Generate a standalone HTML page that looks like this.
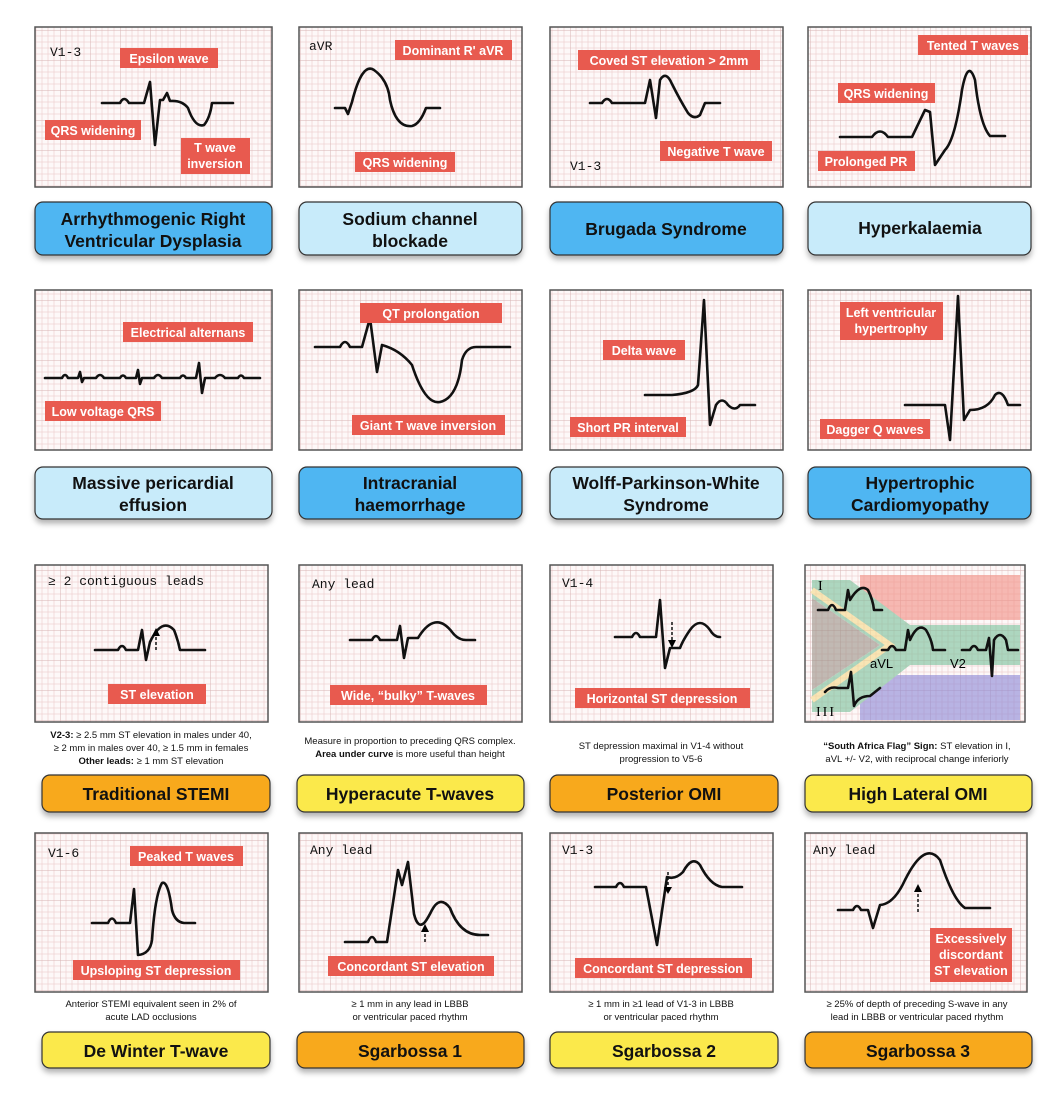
<!DOCTYPE html>
<html><head><meta charset="utf-8"><style>
html,body{margin:0;padding:0;background:#fff;}
svg{display:block;font-family:"Liberation Sans",sans-serif;}
.g{fill:url(#grid);stroke:#555;stroke-width:1.5}
.e{fill:none;stroke:#111;stroke-width:2.6;stroke-linejoin:round;stroke-linecap:round}
.t{fill:#e85a4f}
.tt{fill:#fff;font-size:12.5px;text-anchor:middle;font-weight:bold}
.m{font-family:"Liberation Mono",monospace;font-size:13px;fill:#111}
.lb{stroke:#333;stroke-width:1.2}
.lt{font-size:17.5px;font-weight:bold;text-anchor:middle;fill:#111}
.c{font-size:9.5px;text-anchor:middle;fill:#111}
</style></head><body>
<svg width="1059" height="1093" viewBox="0 0 1059 1093">
<defs>
<pattern id="grid" width="30" height="30" patternUnits="userSpaceOnUse">
<rect width="30" height="30" fill="#fdf8f8"/>
<path d="M6 0V30M12 0V30M18 0V30M24 0V30M0 6H30M0 12H30M0 18H30M0 24H30" stroke="#f0d4d4" stroke-width="0.8"/>
<path d="M0 0V30M0 0H30" stroke="#d8b4b4" stroke-width="1"/>
</pattern>
<filter id="sh" x="-5%" y="-20%" width="110%" height="160%"><feDropShadow dx="0" dy="4" stdDeviation="3" flood-color="#000" flood-opacity="0.3"/></filter>
</defs>

<!-- Row 1 boxes -->
<rect class="g" x="35" y="27" width="237" height="160"/>
<rect class="g" x="299" y="27" width="223" height="160"/>
<rect class="g" x="550" y="27" width="233" height="160"/>
<rect class="g" x="808" y="27" width="223" height="160"/>
<!-- Row 2 -->
<rect class="g" x="35" y="290" width="237" height="160"/>
<rect class="g" x="299" y="290" width="223" height="160"/>
<rect class="g" x="550" y="290" width="233" height="160"/>
<rect class="g" x="808" y="290" width="223" height="160"/>
<!-- Row 3 -->
<rect class="g" x="35" y="565" width="233" height="157"/>
<rect class="g" x="299" y="565" width="223" height="157"/>
<rect class="g" x="550" y="565" width="223" height="157"/>
<rect class="g" x="805" y="565" width="220" height="157"/>
<!-- Row 4 -->
<rect class="g" x="35" y="833" width="233" height="159"/>
<rect class="g" x="299" y="833" width="223" height="159"/>
<rect class="g" x="550" y="833" width="223" height="159"/>
<rect class="g" x="805" y="833" width="222" height="159"/>

<!-- South Africa flag -->
<g opacity="0.6">
<rect x="860" y="575" width="160" height="45" fill="#f28f84"/>
<rect x="860" y="675" width="160" height="45" fill="#8b86d6"/>
<polygon points="812,580 850,580 910,625 1020,625 1020,665 910,665 850,712 812,712 812,690 880,645 812,598" fill="#79c19a"/>
<polygon points="812,598 880,645 812,690" fill="#9a9086"/>
<polyline points="812,590 890,645 812,700" fill="none" stroke="#f5d98a" stroke-width="6"/>
</g>
<text x="818" y="590" style="font-family:'Liberation Serif',serif;font-size:14px">I</text>
<text x="870" y="668" style="font-size:13px">aVL</text>
<text x="950" y="668" style="font-size:13px">V2</text>
<text x="816" y="716" style="font-family:'Liberation Serif',serif;font-size:14px;letter-spacing:2px">III</text>
<path class="e" d="M818 610 H828 Q832 600 836 610 H845 L848 590 L850 600 Q860 583 868 590 Q873 600 874 610 H882"/>
<path class="e" d="M882 650 H888 Q892 642 896 650 H905 L908 630 L910 640 Q918 622 926 630 Q932 640 933 650 H945"/>
<path class="e" d="M962 650 H970 Q974 642 978 650 H986 L989 638 L992 676 L994 640 Q1000 630 1006 640 L1008 650 H1018"/>
<path class="e" d="M825 692 Q830 686 838 688 H848 L851 672 L854 706 Q858 696 870 696 L880 688"/>

<!-- ECG traces -->
<path class="e" d="M102 103 H120 Q124 95 129 103 H144 L150 82 L155 145 L160 100 H163 L167 93 L170 101 Q182 100 188 108 Q195 128 204 125 Q210 118 212 103 H233"/>
<path class="e" d="M335 108 H345 L348 114 L352 102 Q362 62 374 70 Q388 80 390 100 Q396 128 412 126 Q420 124 426 108 H440"/>
<path class="e" d="M590 103 H602 Q607 95 612 103 H645 L650 80 L656 118 L660 80 Q666 70 672 84 Q680 100 688 113 Q694 120 700 115 L705 103 H720"/>
<path class="e" d="M840 137 H872 Q880 126 888 137 H912 L925 110 L930 112 L935 165 L945 150 Q955 140 962 90 Q968 58 975 80 Q980 125 990 136 H1005"/>

<path class="e" d="M45 378 H62 Q65 372 68 378 H78 L80 372 L82 382 L84 378 H96 Q100 372 104 378 H120 Q123 373 126 378 H136 L138 370 L140 384 L142 378 H154 Q158 372 162 378 H180 Q183 373 186 378 H196 L199 363 L202 393 L205 378 H215 Q220 372 225 378 H238 Q241 373 244 378 H260"/>
<path class="e" d="M315 347 H340 Q345 337 350 347 H362 L370 318 L377 372 L382 345 Q400 350 412 365 Q425 405 440 402 Q458 398 462 360 Q466 347 476 347 H510"/>
<path class="e" d="M645 395 H672 Q695 393 698 385 L704 300 L710 425 L716 405 Q722 396 728 405 Q735 412 740 405 H755"/>
<path class="e" d="M905 405 H945 L950 440 L958 296 L964 420 L970 410 Q988 410 995 395 Q1002 388 1008 405 H1020"/>

<path class="e" d="M95 650 H118 Q122 642 126 650 H138 L142 630 L146 660 L150 642 Q162 617 174 630 Q178 640 180 650 H205"/>
<path class="e" d="M350 640 H372 Q376 632 380 640 H397 L400 626 L404 658 L408 638 H418 Q435 610 452 632 Q458 640 466 640 H475"/>
<path class="e" d="M615 637 H632 Q636 629 640 637 H656 L660 600 L665 668 L670 648 H680 Q683 640 690 630 Q700 616 710 630 Q714 637 720 637"/>
<path class="e" d="M92 923 H108 Q112 914 116 923 H130 L134 889 L138 955 Q150 954 152 940 Q155 895 162 883 Q168 880 172 910 Q175 922 184 923 H195"/>
<path class="e" d="M345 942 H368 Q372 932 376 942 H387 L398 870 L402 885 L408 862 L414 914 Q418 930 425 922 Q428 918 432 910 Q440 895 450 908 Q460 935 480 935 H488"/>
<path class="e" d="M595 887 H616 Q620 879 624 887 H646 L657 945 L667 877 Q675 880 683 872 Q692 855 700 865 Q710 885 722 887 H742"/>
<path class="e" d="M838 910 H853 Q857 902 861 910 H868 L873 928 L880 905 Q894 904 905 880 Q925 840 940 860 Q953 900 965 908 H990"/>
<!-- dashed arrows -->
<path d="M156 650 V632" stroke="#111" stroke-width="1.5" stroke-dasharray="3,2"/><path d="M152 636 L156 628 L160 636Z"/>
<path d="M672 622 V643" stroke="#111" stroke-width="1.5" stroke-dasharray="3,2"/><path d="M668 640 L672 648 L676 640Z"/>
<path d="M425 942 V928" stroke="#111" stroke-width="1.5" stroke-dasharray="3,2"/><path d="M421 932 L425 924 L429 932Z"/>
<path d="M668 872 V890" stroke="#111" stroke-width="1.5" stroke-dasharray="3,2"/><path d="M664 887 L668 894 L672 887Z"/>
<path d="M918 912 V888" stroke="#111" stroke-width="1.5" stroke-dasharray="3,2"/><path d="M914 892 L918 884 L922 892Z"/>

<!-- mono lead labels -->
<text class="m" x="50" y="56">V1-3</text>
<text class="m" x="309" y="50">aVR</text>
<text class="m" x="570" y="170">V1-3</text>
<text class="m" x="48" y="585">≥ 2 contiguous leads</text>
<text class="m" x="312" y="588">Any lead</text>
<text class="m" x="562" y="587">V1-4</text>
<text class="m" x="48" y="857">V1-6</text>
<text class="m" x="310" y="854">Any lead</text>
<text class="m" x="562" y="854">V1-3</text>
<text class="m" x="813" y="854">Any lead</text>

<!-- red tags -->
<g>
<rect class="t" x="120" y="48" width="98" height="20"/><text class="tt" x="169" y="63">Epsilon wave</text>
<rect class="t" x="45" y="120" width="96" height="20"/><text class="tt" x="93" y="135">QRS widening</text>
<rect class="t" x="181" y="138" width="69" height="36"/><text class="tt" x="215" y="152">T wave</text><text class="tt" x="215" y="168">inversion</text>
<rect class="t" x="395" y="40" width="117" height="20"/><text class="tt" x="453" y="55">Dominant R' aVR</text>
<rect class="t" x="355" y="152" width="100" height="20"/><text class="tt" x="405" y="167">QRS widening</text>
<rect class="t" x="578" y="50" width="182" height="20"/><text class="tt" x="669" y="65">Coved ST elevation &gt; 2mm</text>
<rect class="t" x="660" y="141" width="112" height="20"/><text class="tt" x="716" y="156">Negative T wave</text>
<rect class="t" x="918" y="35" width="110" height="20"/><text class="tt" x="973" y="50">Tented T waves</text>
<rect class="t" x="838" y="83" width="97" height="20"/><text class="tt" x="886" y="98">QRS widening</text>
<rect class="t" x="818" y="151" width="97" height="20"/><text class="tt" x="866" y="166">Prolonged PR</text>

<rect class="t" x="123" y="322" width="130" height="20"/><text class="tt" x="188" y="337">Electrical alternans</text>
<rect class="t" x="45" y="401" width="116" height="20"/><text class="tt" x="103" y="416">Low voltage QRS</text>
<rect class="t" x="360" y="303" width="142" height="20"/><text class="tt" x="431" y="318">QT prolongation</text>
<rect class="t" x="352" y="415" width="153" height="20"/><text class="tt" x="428" y="430">Giant T wave inversion</text>
<rect class="t" x="603" y="340" width="82" height="20"/><text class="tt" x="644" y="355">Delta wave</text>
<rect class="t" x="570" y="417" width="116" height="20"/><text class="tt" x="628" y="432">Short PR interval</text>
<rect class="t" x="840" y="302" width="103" height="38"/><text class="tt" x="891" y="317">Left ventricular</text><text class="tt" x="891" y="333">hypertrophy</text>
<rect class="t" x="820" y="419" width="110" height="20"/><text class="tt" x="875" y="434">Dagger Q waves</text>

<rect class="t" x="108" y="684" width="98" height="20"/><text class="tt" x="157" y="699">ST elevation</text>
<rect class="t" x="330" y="685" width="157" height="20"/><text class="tt" x="408" y="700">Wide, “bulky” T-waves</text>
<rect class="t" x="575" y="688" width="175" height="20"/><text class="tt" x="662" y="703">Horizontal ST depression</text>

<rect class="t" x="130" y="846" width="113" height="20"/><text class="tt" x="186" y="861">Peaked T waves</text>
<rect class="t" x="73" y="960" width="167" height="20"/><text class="tt" x="156" y="975">Upsloping ST depression</text>
<rect class="t" x="328" y="956" width="166" height="20"/><text class="tt" x="411" y="971">Concordant ST elevation</text>
<rect class="t" x="575" y="958" width="177" height="20"/><text class="tt" x="663" y="973">Concordant ST depression</text>
<rect class="t" x="930" y="928" width="82" height="54"/><text class="tt" x="971" y="943">Excessively</text><text class="tt" x="971" y="959">discordant</text><text class="tt" x="971" y="975">ST elevation</text>
</g>

<!-- labels row1 -->
<g filter="url(#sh)">
<rect class="lb" x="35" y="202" width="237" height="53" rx="8" fill="#4fb6f2"/>
<rect class="lb" x="299" y="202" width="223" height="53" rx="8" fill="#c8ebfa"/>
<rect class="lb" x="550" y="202" width="233" height="53" rx="8" fill="#4fb6f2"/>
<rect class="lb" x="808" y="202" width="223" height="53" rx="8" fill="#c8ebfa"/>
<rect class="lb" x="35" y="467" width="237" height="52" rx="8" fill="#c8ebfa"/>
<rect class="lb" x="299" y="467" width="223" height="52" rx="8" fill="#4fb6f2"/>
<rect class="lb" x="550" y="467" width="233" height="52" rx="8" fill="#c8ebfa"/>
<rect class="lb" x="808" y="467" width="223" height="52" rx="8" fill="#4fb6f2"/>
<rect class="lb" x="42" y="775" width="228" height="37" rx="8" fill="#f8a91c"/>
<rect class="lb" x="297" y="775" width="227" height="37" rx="8" fill="#fbe94c"/>
<rect class="lb" x="550" y="775" width="228" height="37" rx="8" fill="#f8a91c"/>
<rect class="lb" x="805" y="775" width="227" height="37" rx="8" fill="#fbe94c"/>
<rect class="lb" x="42" y="1032" width="228" height="36" rx="8" fill="#fbe94c"/>
<rect class="lb" x="297" y="1032" width="227" height="36" rx="8" fill="#f8a91c"/>
<rect class="lb" x="550" y="1032" width="228" height="36" rx="8" fill="#fbe94c"/>
<rect class="lb" x="805" y="1032" width="227" height="36" rx="8" fill="#f8a91c"/>
</g>
<text class="lt" x="153" y="225">Arrhythmogenic Right</text><text class="lt" x="153" y="247">Ventricular Dysplasia</text>
<text class="lt" x="410" y="225">Sodium channel</text><text class="lt" x="410" y="247">blockade</text>
<text class="lt" x="666" y="235">Brugada Syndrome</text>
<text class="lt" x="920" y="234">Hyperkalaemia</text>
<text class="lt" x="153" y="489">Massive pericardial</text><text class="lt" x="153" y="511">effusion</text>
<text class="lt" x="410" y="489">Intracranial</text><text class="lt" x="410" y="511">haemorrhage</text>
<text class="lt" x="666" y="489">Wolff-Parkinson-White</text><text class="lt" x="666" y="511">Syndrome</text>
<text class="lt" x="920" y="489">Hypertrophic</text><text class="lt" x="920" y="511">Cardiomyopathy</text>
<text class="lt" x="156" y="800">Traditional STEMI</text>
<text class="lt" x="410" y="800">Hyperacute T-waves</text>
<text class="lt" x="664" y="800">Posterior OMI</text>
<text class="lt" x="918" y="800">High Lateral OMI</text>
<text class="lt" x="156" y="1057">De Winter T-wave</text>
<text class="lt" x="410" y="1057">Sgarbossa 1</text>
<text class="lt" x="664" y="1057">Sgarbossa 2</text>
<text class="lt" x="918" y="1057">Sgarbossa 3</text>

<!-- captions -->
<text class="c" x="151" y="738"><tspan font-weight="bold">V2-3:</tspan> ≥ 2.5 mm ST elevation in males under 40,</text>
<text class="c" x="151" y="751">≥ 2 mm in males over 40, ≥ 1.5 mm in females</text>
<text class="c" x="151" y="764"><tspan font-weight="bold">Other leads:</tspan> ≥ 1 mm ST elevation</text>
<text class="c" x="410" y="744">Measure in proportion to preceding QRS complex.</text>
<text class="c" x="410" y="757"><tspan font-weight="bold">Area under curve</tspan> is more useful than height</text>
<text class="c" x="661" y="749">ST depression maximal in V1-4 without</text>
<text class="c" x="661" y="762">progression to V5-6</text>
<text class="c" x="917" y="749"><tspan font-weight="bold">“South Africa Flag” Sign:</tspan> ST elevation in I,</text>
<text class="c" x="917" y="762">aVL +/- V2, with reciprocal change inferiorly</text>
<text class="c" x="151" y="1007">Anterior STEMI equivalent seen in 2% of</text>
<text class="c" x="151" y="1020">acute LAD occlusions</text>
<text class="c" x="410" y="1007">≥ 1 mm in any lead in LBBB</text>
<text class="c" x="410" y="1020">or ventricular paced rhythm</text>
<text class="c" x="661" y="1007">≥ 1 mm in ≥1 lead of V1-3 in LBBB</text>
<text class="c" x="661" y="1020">or ventricular paced rhythm</text>
<text class="c" x="917" y="1007">≥ 25% of depth of preceding S-wave in any</text>
<text class="c" x="917" y="1020">lead in LBBB or ventricular paced rhythm</text>
</svg>
</body></html>
